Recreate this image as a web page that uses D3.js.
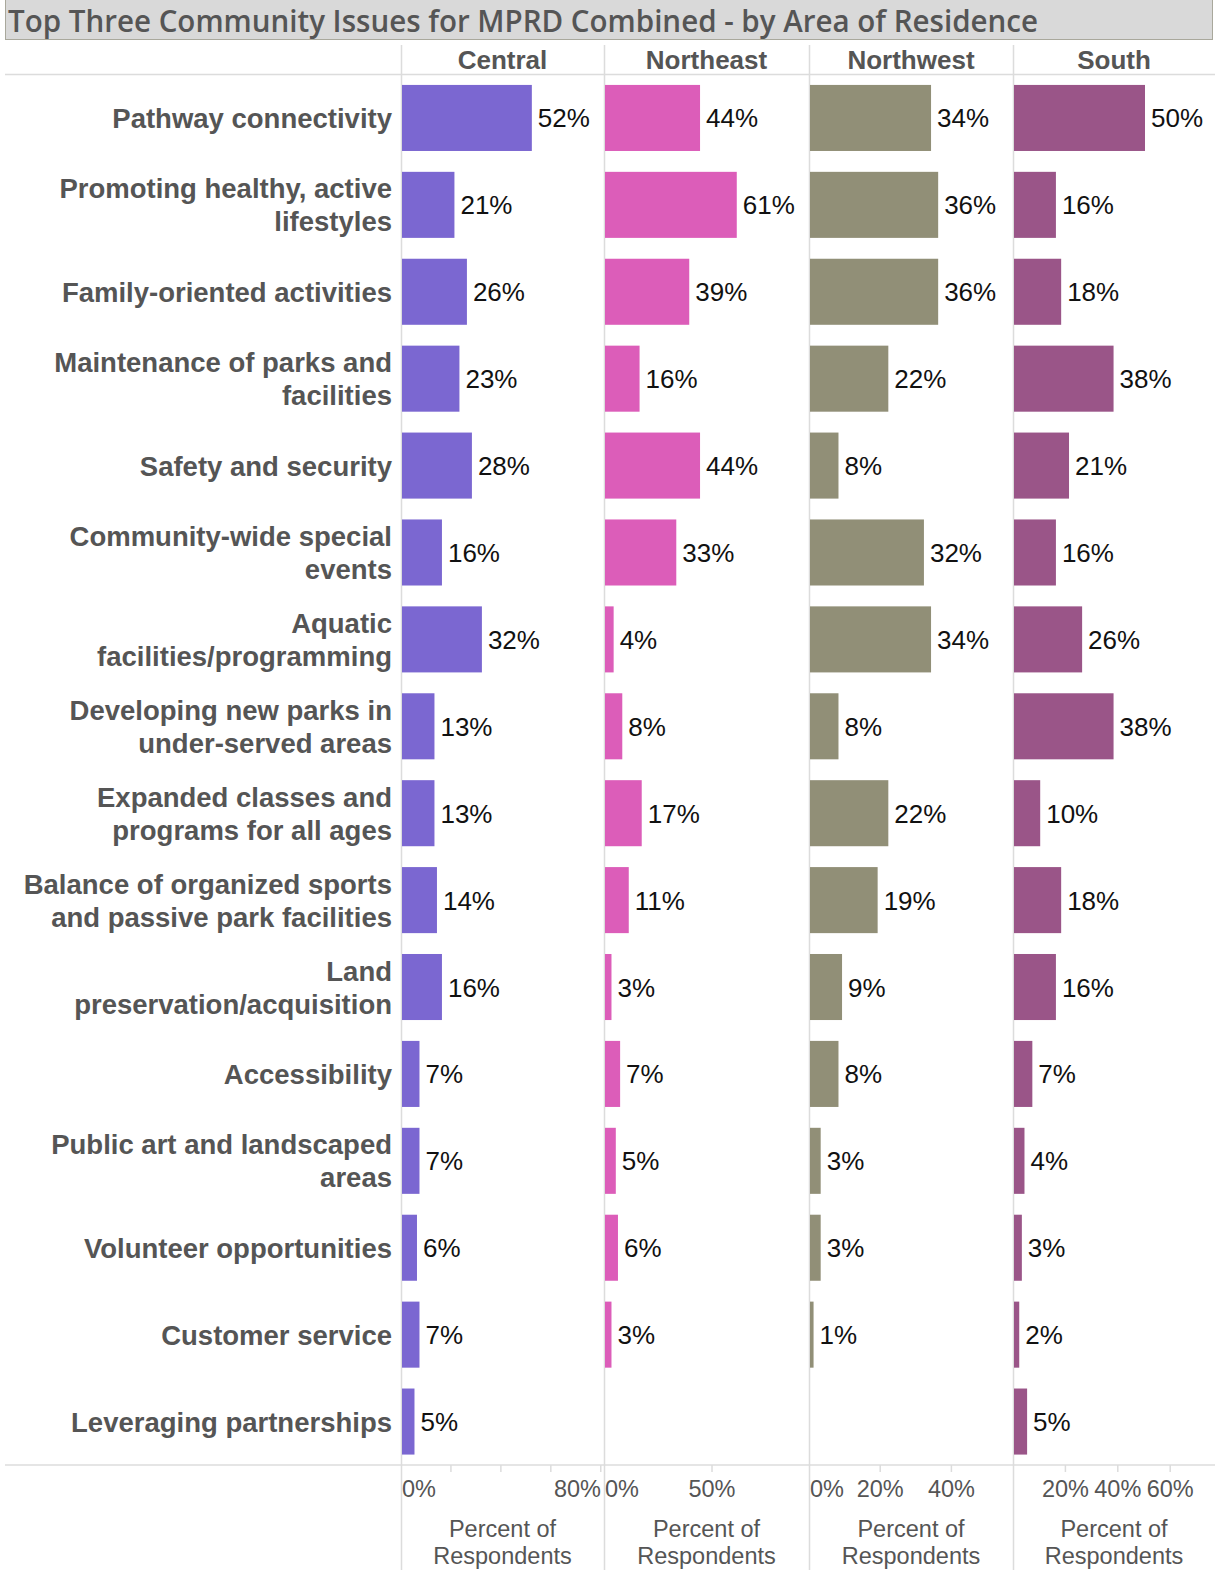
<!DOCTYPE html>
<html>
<head>
<meta charset="utf-8">
<script src="https://cdn.jsdelivr.net/npm/d3@7"></script>
<style>
  body { margin: 0; background: #fff; }
  text { font-family: "Liberation Sans", Arial, sans-serif; }
</style>
</head>
<body>
<script>
// data
var title = "Top Three Community Issues for MPRD Combined - by Area of Residence";
var areas = ["Central", "Northeast", "Northwest", "South"];
var issues = [
    "Pathway connectivity",
    "Promoting healthy, active\nlifestyles",
    "Family-oriented activities",
    "Maintenance of parks and\nfacilities",
    "Safety and security",
    "Community-wide special\nevents",
    "Aquatic\nfacilities/programming",
    "Developing new parks in\nunder-served areas",
    "Expanded classes and\nprograms for all ages",
    "Balance of organized sports\nand passive park facilities",
    "Land\npreservation/acquisition",
    "Accessibility",
    "Public art and landscaped\nareas",
    "Volunteer opportunities",
    "Customer service",
    "Leveraging partnerships"
];
var central   = [52, 21, 26, 23, 28, 16, 32, 13, 13, 14, 16, 7, 7, 6, 7, 5];
var northeast = [44, 61, 39, 16, 44, 33, 4, 8, 17, 11, 3, 7, 5, 6, 3, null];
var northwest = [34, 36, 36, 22, 8, 32, 34, 8, 22, 19, 9, 8, 3, 3, 1, null];
var south     = [50, 16, 18, 38, 21, 16, 26, 38, 10, 18, 16, 7, 4, 3, 2, 5];
var seriesValues = [central, northeast, northwest, south];

// axis domains and ticks per panel
var axisMax = [81.3, 94.9, 57.3, 77.1];
var tickValues = [[0, 20, 40, 60, 80], [0, 50], [0, 20, 40], [0, 20, 40, 60]];
var tickLabels = [[0, 80], [0, 50], [0, 20, 40], [20, 40, 60]];
var axisTitle = ["Percent of", "Respondents"];

var colors = ["#7b67d1", "#dc5db9", "#918f77", "#9a5588"];

var width = 1215, height = 1570;
var panelX = [401, 604, 809, 1013, 1215];
var plotTop = 74.5, plotBottom = 1465;
var gridColor = "#dcdcdc";
var textGray = "#555";

var svg = d3.select("body").append("svg")
    .attr("width", width)
    .attr("height", height);

// title bar
svg.append("rect")
    .attr("x", 5.5)
    .attr("y", -1)
    .attr("width", 1207)
    .attr("height", 40.5)
    .attr("fill", "#d9d9d9")
    .attr("stroke", "#a9a89c");

svg.append("text")
    .attr("x", 8)
    .attr("y", 32)
    .style("font-family", "'Open Sans', sans-serif")
    .attr("font-weight", 600)
    .attr("font-size", 30)
    .attr("fill", textGray)
    .attr("textLength", 1030)
    .attr("lengthAdjust", "spacingAndGlyphs")
    .text(title);

// row scale
var y = d3.scaleBand()
    .domain(issues)
    .range([plotTop, plotBottom])
    .paddingInner(0.24)
    .paddingOuter(0.12);

// grid lines
svg.append("line")
    .attr("x1", 5).attr("x2", width)
    .attr("y1", plotTop).attr("y2", plotTop)
    .attr("stroke", gridColor).attr("stroke-width", 1.5);
svg.append("line")
    .attr("x1", 5).attr("x2", width)
    .attr("y1", plotBottom).attr("y2", plotBottom)
    .attr("stroke", gridColor).attr("stroke-width", 1.5);

// row labels
var rowLabels = svg.append("g").selectAll("text")
    .data(issues)
    .enter()
    .append("text")
    .attr("text-anchor", "end")
    .attr("font-size", 27.5)
    .attr("font-weight", "bold")
    .attr("fill", textGray)
    .attr("transform", d => "translate(392," + (y(d) + y.bandwidth() / 2) + ")");

rowLabels.each(function(d) {
    var lines = d.split("\n");
    var g = d3.select(this);
    lines.forEach(function(line, i) {
        g.append("tspan")
            .attr("x", 0)
            .attr("y", (i - (lines.length - 1) / 2) * 33 + 10)
            .text(line);
    });
});

// panels
areas.forEach(function(area, p) {
    var x0 = panelX[p], x1 = panelX[p + 1];
    var x = d3.scaleLinear()
        .domain([0, axisMax[p]])
        .range([x0, x1]);

    var panel = svg.append("g");

    // divider
    panel.append("line")
        .attr("x1", x0 + 0.5).attr("x2", x0 + 0.5)
        .attr("y1", 45).attr("y2", height)
        .attr("stroke", gridColor).attr("stroke-width", 1.5);

    // header
    panel.append("text")
        .attr("x", (x0 + x1) / 2)
        .attr("y", 69)
        .attr("text-anchor", "middle")
        .attr("font-size", 26)
        .attr("font-weight", "bold")
        .attr("fill", textGray)
        .text(area);

    var rows = issues.map(function(d, i) {
        return { issue: d, value: seriesValues[p][i] };
    }).filter(d => d.value != null);

    panel.selectAll("rect")
        .data(rows)
        .enter()
        .append("rect")
        .attr("x", x(0) + 1)
        .attr("y", d => y(d.issue))
        .attr("width", d => x(d.value) - x(0))
        .attr("height", y.bandwidth())
        .attr("fill", colors[p]);

    panel.selectAll(".value")
        .data(rows)
        .enter()
        .append("text")
        .attr("class", "value")
        .attr("x", d => x(d.value) + 7)
        .attr("y", d => y(d.issue) + y.bandwidth() / 2 + 9.5)
        .attr("font-size", 26)
        .attr("fill", "#111")
        .text(d => d.value + "%");

    // ticks
    panel.selectAll(".tick")
        .data(tickValues[p].filter(t => t > 0))
        .enter()
        .append("line")
        .attr("class", "tick")
        .attr("x1", d => x(d)).attr("x2", d => x(d))
        .attr("y1", plotBottom).attr("y2", plotBottom + 7)
        .attr("stroke", gridColor).attr("stroke-width", 1.5);

    panel.selectAll(".ticklabel")
        .data(tickLabels[p])
        .enter()
        .append("text")
        .attr("class", "ticklabel")
        .attr("y", 1497)
        .attr("font-size", 23.5)
        .attr("fill", textGray)
        .text(d => d + "%")
        .attr("x", function(d) {
            var w = this.getComputedTextLength();
            var cx = x(d) - w / 2;
            return Math.max(x0 + 1, Math.min(x1 - 3 - w, cx));
        });

    // axis title
    axisTitle.forEach(function(line, i) {
        panel.append("text")
            .attr("x", (x0 + x1) / 2)
            .attr("y", 1537 + i * 27)
            .attr("text-anchor", "middle")
            .attr("font-size", 23.5)
            .attr("fill", textGray)
            .text(line);
    });
});
</script>
</body>
</html>
